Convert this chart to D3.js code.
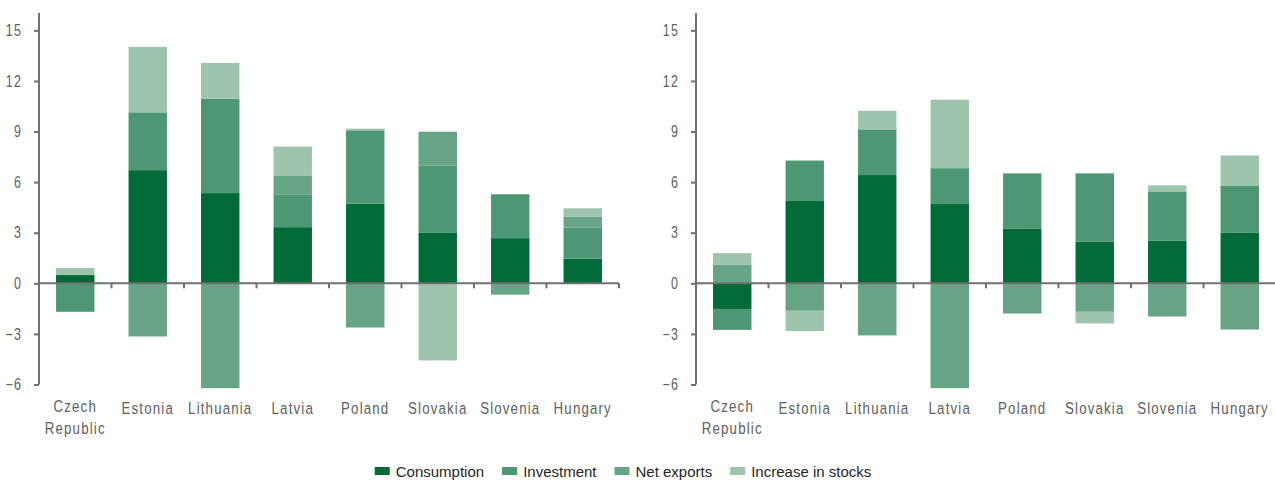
<!DOCTYPE html>
<html>
<head>
<meta charset="utf-8">
<script src="https://cdn.jsdelivr.net/npm/d3@7"></script>
<style>
  html, body { margin: 0; padding: 0; background: #fff; }
  svg { display: block; }
  .lbl { font-family: "Liberation Sans", Arial, sans-serif; fill: #606060; letter-spacing: 1.5px; }
  .leg { font-family: "Liberation Sans", Arial, sans-serif; font-size: 15px; fill: #262626; }
</style>
</head>
<body>
<svg id="chart" width="1275" height="480"></svg>
<script>
const categories = ["Czech Republic", "Estonia", "Lithuania", "Latvia", "Poland", "Slovakia", "Slovenia", "Hungary"];
const seriesNames = ["Consumption", "Investment", "Net exports", "Increase in stocks"];
const seriesColors = ["#006a38", "#4d9774", "#67a385", "#9fc4ae"];
const yTicks = [-6, -3, 0, 3, 6, 9, 12, 15];

// Left panel
const consumptionL = [0.49, 6.71, 5.35, 3.33, 4.72, 2.99, 2.68, 1.46];
const investmentL  = [-1.69, 3.43, 5.59, 1.95, 4.35, 4.00, 2.60, 1.85];
const netExportsL  = [0, -3.15, -6.22, 1.12, -2.62, 2.00, -0.67, 0.65];
const stocksL      = [0.42, 3.88, 2.13, 1.71, 0.10, -4.57, 0, 0.49];

// Right panel
const consumptionR = [-1.52, 4.88, 6.42, 4.70, 3.23, 2.46, 2.52, 2.99];
const investmentR  = [-1.24, 2.40, 2.71, 2.13, 3.29, 4.06, 2.93, 2.78];
const netExportsR  = [1.12, -1.63, -3.09, -6.22, -1.79, -1.69, -1.97, -2.74];
const stocksR      = [0.67, -1.20, 1.10, 4.06, 0, -0.69, 0.36, 1.81];

const svg = d3.select("#chart");
const axisColor = "#707070";
const squeeze = 0.78;

function buildRows(c, i, n, s) {
  return categories.map((cat, k) => ({
    cat: cat,
    "Consumption": c[k], "Investment": i[k], "Net exports": n[k], "Increase in stocks": s[k]
  }));
}

function panel(rows, x0, x1) {
  const g = svg.append("g");
  const x = d3.scaleBand().domain(categories).range([x0, x1]).paddingInner(0.47).paddingOuter(0.235);
  const y = d3.scaleLinear().domain([-6, 16]).range([384.5, 13.5]);

  const stacked = d3.stack().keys(seriesNames).offset(d3.stackOffsetDiverging)(rows);

  g.selectAll("g.series").data(stacked).join("g")
    .attr("class", "series")
    .attr("fill", (d, i) => seriesColors[i])
    .selectAll("rect").data(d => d).join("rect")
      .attr("x", d => x(d.data.cat))
      .attr("width", x.bandwidth())
      .attr("y", d => y(Math.max(d[0], d[1])))
      .attr("height", d => Math.abs(y(d[0]) - y(d[1])));

  // Y axis
  const yAxis = d3.axisLeft(y).tickValues(yTicks).tickSize(5).tickPadding(12)
    .tickFormat(v => v < 0 ? "\u2212" + Math.abs(v) : String(v));
  const ya = g.append("g").attr("transform", `translate(${x0},0)`).call(yAxis);
  ya.select(".domain").attr("stroke", axisColor).attr("stroke-width", 2).attr("d", `M0,13V384.5`);
  ya.selectAll(".tick line").attr("stroke", axisColor).attr("stroke-width", 2);
  ya.selectAll(".tick text").attr("class", "lbl").style("font-size", "16px")
    .attr("fill", "#606060")
    .attr("x", -17 / squeeze)
    .attr("transform", `scale(${squeeze},1)`);

  // X axis line at zero with ticks at band boundaries
  const y0 = y(0);
  const xa = g.append("g");
  xa.append("line").attr("x1", x0).attr("x2", x1).attr("y1", y0).attr("y2", y0)
    .attr("stroke", axisColor).attr("stroke-width", 2);
  const step = x.step();
  const bounds = categories.map((c, k) => x(c) - x.paddingOuter() * step + step);
  xa.selectAll("line.tk").data(bounds).join("line").attr("class", "tk")
    .attr("x1", d => d).attr("x2", d => d).attr("y1", y0).attr("y2", y0 + 5)
    .attr("stroke", axisColor).attr("stroke-width", 2);

  // Category labels
  const lab = g.selectAll("text.cat").data(categories).join("text")
    .attr("class", "lbl cat")
    .attr("text-anchor", "middle")
    .style("font-size", "17px")
    .attr("transform", d => `translate(${x(d) + x.bandwidth() / 2},414) scale(${squeeze},1)`);
  lab.each(function(d) {
    const parts = d === "Czech Republic" ? ["Czech", "Republic"] : [d];
    const t = d3.select(this);
    parts.forEach((p, i) => {
      t.append("tspan").attr("x", 0).attr("dy", i === 0 ? (parts.length > 1 ? -2 : 0) : 22).text(p);
    });
  });
}

panel(buildRows(consumptionL, investmentL, netExportsL, stocksL), 39, 619);
panel(buildRows(consumptionR, investmentR, netExportsR, stocksR), 696, 1276);

// Legend
const leg = svg.append("g");
let cx = 0;
seriesNames.forEach((name, i) => {
  const it = leg.append("g");
  it.append("rect").attr("x", 0).attr("y", -4).attr("width", 15).attr("height", 8).attr("fill", seriesColors[i]);
  const t = it.append("text").attr("class", "leg").attr("x", 21).attr("y", 5.5).text(name);
  const w = 21 + t.node().getComputedTextLength();
  it.attr("transform", `translate(${cx},0)`);
  cx += w + 18;
});
const totalW = cx - 18;
leg.attr("transform", `translate(${623 - totalW / 2},471)`);
</script>
</body>
</html>
